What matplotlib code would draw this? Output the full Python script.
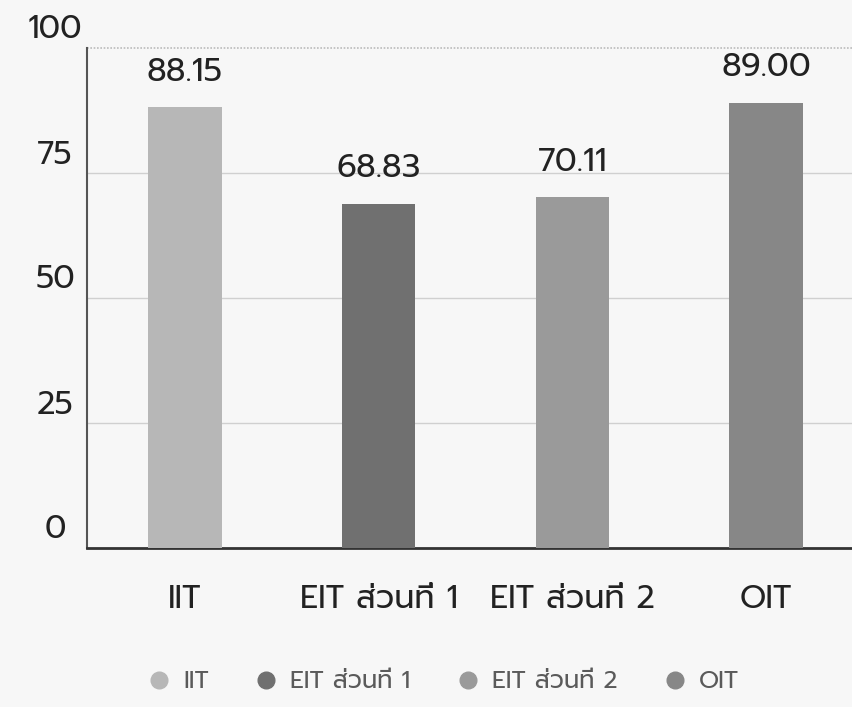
import matplotlib
matplotlib.use("Agg")
import matplotlib.pyplot as plt
from matplotlib.lines import Line2D

categories = ["IIT", "EIT ส่วนที่ 1", "EIT ส่วนที่ 2", "OIT"]
values = [88.15, 68.83, 70.11, 89.00]
colors = ["#b7b7b7", "#707070", "#9a9a9a", "#878787"]
yticks = [0, 25, 50, 75, 100]

plt.rcParams["font.family"] = ["Prompt", "Kanit", "DejaVu Sans"]

fig = plt.figure(figsize=(8.52, 7.07), dpi=100, facecolor="#f7f7f7")
ax = fig.add_axes([87 / 852, 1 - 548 / 707, 1 - 87 / 852, 500 / 707])
ax.set_facecolor("#f7f7f7")

x = range(len(categories))
ax.bar(x, values, width=0.38, color=colors, zorder=3)
for i, v in enumerate(values):
    ax.text(i, v + 7, f"{v:.2f}", ha="center", va="center", fontsize=23.5, color="#222222")

ax.set_ylim(0, 100)
ax.set_xlim(-0.505, 3.443)
ax.set_yticks(yticks)
ax.set_xticks(list(x))
ax.set_xticklabels(categories)
ax.tick_params(axis="both", length=0, labelsize=23, colors="#222222")
ax.tick_params(axis="y", labelleft=False)
ax.tick_params(axis="x", pad=26)

# y labels sit centred left of the axis, a bit above their line
for t in yticks:
    ax.annotate(str(t), xy=(0, t), xycoords=ax.get_yaxis_transform(),
                xytext=(-32, 18), textcoords="offset pixels",
                ha="center", va="center", fontsize=23, color="#222222")

for y in [25, 50, 75]:
    ax.axhline(y, color="#d0d0d0", lw=1, zorder=1)
ax.axhline(100, color="#bbbbbb", lw=1.2, ls=(0, (1, 1)), zorder=1, clip_on=False)

for s in ["top", "right"]:
    ax.spines[s].set_visible(False)
ax.spines["left"].set_color("#555555")
ax.spines["left"].set_linewidth(1.5)
ax.spines["bottom"].set_color("#333333")
ax.spines["bottom"].set_linewidth(2)

handles = [Line2D([], [], marker="o", ls="", color=c, markersize=12) for c in colors]
fig.legend(handles, categories, loc="center", bbox_to_anchor=(443 / 852, 1 - 682 / 707),
           ncol=4, frameon=False, fontsize=17.5, handletextpad=0.5, columnspacing=1.85,
           handlelength=1.0, labelcolor="#5a5a5a")

fig.savefig("out.png", dpi=100, facecolor=fig.get_facecolor())
